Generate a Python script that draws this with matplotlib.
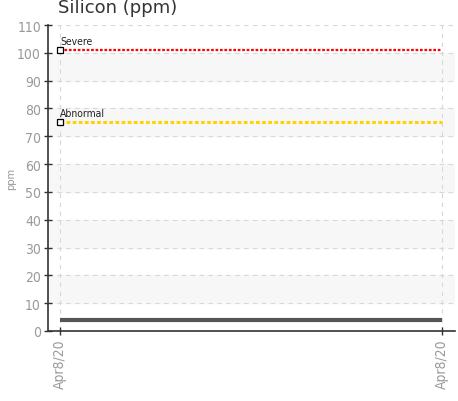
import matplotlib
matplotlib.use('Agg')
import matplotlib.pyplot as plt
import numpy as np

# Data
dates = ['Apr8/20', 'Apr8/20']
silicon = [4, 4]
severe_limit = 101
abnormal_limit = 75
y_ticks = list(range(0, 111, 10))

plt.rcParams['font.family'] = ['DejaVu Sans']
plt.rcParams['font.stretch'] = 'condensed'

fig = plt.figure(figsize=(4.58, 4.02), dpi=100)
ax = fig.add_axes([48 / 458, 70 / 402, 407 / 458, 306 / 402])

x = np.arange(len(dates))

# Alternating bands
for lo in range(10, 110, 20):
    ax.axhspan(lo, lo + 10, color='#f7f7f7', zorder=0)

ax.set_ylim(0, 110)
pad_l = 12 / 382
pad_r = 13 / 382
ax.set_xlim(x[0] - pad_l, x[-1] + pad_r)

ax.grid(True, color='#d8d8d8', linestyle=(0, (4, 4)), linewidth=0.8, zorder=1)

# Limits
ax.plot(x, [severe_limit] * len(x), color='#ff0000', linestyle=(0, (1.2, 0.8)), linewidth=1.6, zorder=3)
ax.plot(x, [abnormal_limit] * len(x), color='#ffd200', linestyle=(0, (1.2, 0.8)), linewidth=2.2, zorder=3)
ax.plot([x[0]], [severe_limit], marker='s', markersize=4.5, markerfacecolor='white',
        markeredgecolor='black', markeredgewidth=0.9, zorder=4, linestyle='none')
ax.plot([x[0]], [abnormal_limit], marker='s', markersize=4.5, markerfacecolor='white',
        markeredgecolor='black', markeredgewidth=0.9, zorder=4, linestyle='none')
ax.text(x[0], severe_limit + 1.5, 'Severe', fontsize=7.5, color='#222222', va='bottom', ha='left')
ax.text(x[0], abnormal_limit + 1.5, 'Abnormal', fontsize=7.5, color='#222222', va='bottom', ha='left')

# Series
ax.plot(x, silicon, color='#555555', linewidth=3, zorder=3, solid_capstyle='butt')

ax.set_yticks(y_ticks)
ax.set_xticks(x)
ax.set_xticklabels(dates, rotation=90)
ax.tick_params(axis='both', colors='#333333', labelcolor='#999999', labelsize=10,
               direction='inout', length=6, width=1, pad=2)
ax.set_ylabel('ppm', color='#999999', fontsize=8)
ax.yaxis.set_label_coords(-32 / 407, 0.5)

for side in ['top', 'right']:
    ax.spines[side].set_visible(False)
for side in ['left', 'bottom']:
    ax.spines[side].set_color('#333333')
    ax.spines[side].set_linewidth(1.2)

fig.text(58 / 458, 1 - 8 / 402, 'Silicon (ppm)', fontsize=13, color='#333333',
         stretch='normal', va='center', ha='left')

fig.savefig('out.png', dpi=100)
